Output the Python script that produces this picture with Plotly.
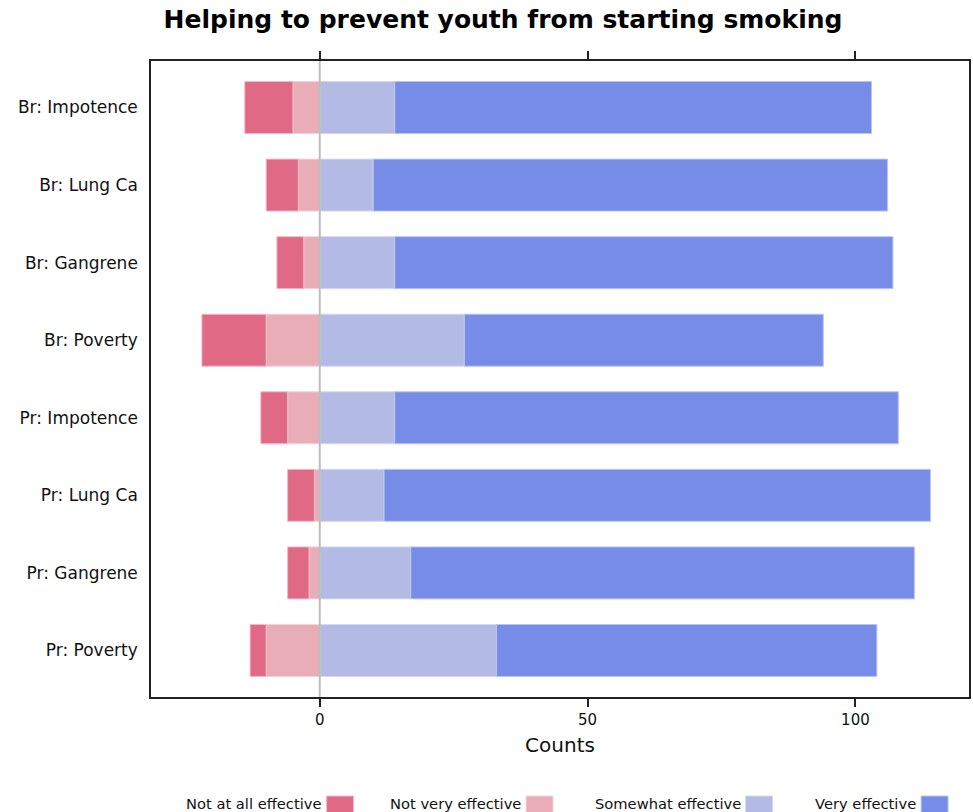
import plotly.graph_objects as go

# Survey items (top to bottom) and response counts per category
items = ["Br: Impotence", "Br: Lung Ca", "Br: Gangrene", "Br: Poverty",
         "Pr: Impotence", "Pr: Lung Ca", "Pr: Gangrene", "Pr: Poverty"]
not_at_all = [9, 6, 5, 12, 5, 5, 4, 3]
not_very = [5, 4, 3, 10, 6, 1, 2, 10]
somewhat = [14, 10, 14, 27, 14, 12, 17, 33]
very = [89, 96, 93, 67, 94, 102, 94, 71]

categories = ["Not at all effective", "Not very effective",
              "Somewhat effective", "Very effective"]
colors = ["#E06A86", "#E8ADB7", "#B3BBE5", "#778CE6"]
edges = ["#F2B9C6", "#F3D3D8", "#D3D8F2", "#B9C4F2"]

W, H = 973, 812
L, R, T, B = 151, 2, 61, 115
PW, PH = W - L - R, H - T - B
FONT = "DejaVu Sans, Verdana, sans-serif"


def px_x(x):
    return (x - L) / PW


def px_y(y):
    return (H - B - y) / PH


fig = go.Figure()

# Disagreeing responses stack leftwards from zero, agreeing ones to the right
series = [
    (categories[1], [-v for v in not_very], colors[1], edges[1], not_very),
    (categories[0], [-v for v in not_at_all], colors[0], edges[0], not_at_all),
    (categories[2], somewhat, colors[2], edges[2], somewhat),
    (categories[3], very, colors[3], edges[3], very),
]
for name, vals, col, edge, raw in series:
    fig.add_trace(go.Bar(
        y=items, x=vals, name=name, orientation="h",
        marker=dict(color=col, line=dict(color=edge, width=1)),
        customdata=raw, width=0.67,
        hovertemplate="%{y}<br>" + name + ": %{customdata}<extra></extra>",
        showlegend=False,
    ))

fig.update_layout(
    width=W, height=H,
    margin=dict(l=L, r=R, t=T, b=B),
    barmode="relative",
    plot_bgcolor="white", paper_bgcolor="white",
    font=dict(family=FONT, color="#111111"),
    title=dict(
        text="<b>Helping to prevent youth from starting smoking</b>",
        x=503 / W, xanchor="center",
        y=1 - 19 / H, yanchor="middle",
        font=dict(size=25, color="#000000", family=FONT),
    ),
    xaxis=dict(
        range=[-31.5, 121.2],
        tickvals=[0, 50, 100], ticktext=["0", "50", "100"],
        ticks="outside", ticklen=8, tickwidth=1.5, tickcolor="#222222",
        showline=True, linecolor="#222222", linewidth=1.5, mirror="ticks",
        showgrid=False, zeroline=False,
        tickfont=dict(size=15),
        title=dict(text="Counts", font=dict(size=20), standoff=10),
    ),
    yaxis=dict(
        range=[7.6, -0.6], type="category",
        categoryorder="array", categoryarray=items,
        showline=True, linecolor="#222222", linewidth=1.5, mirror=True,
        showgrid=False, zeroline=False, ticks="",
        ticklabelstandoff=8,
        tickfont=dict(size=17),
    ),
)

# Reference line at zero, drawn over the bars
fig.add_shape(type="line", xref="x", yref="paper", x0=0, x1=0, y0=0, y1=1,
              line=dict(color="#BDBDBD", width=2), layer="above")

# Legend row: label followed by its colour swatch
swatch_left = [327, 527, 747, 923]
for sx, name, col, edge in zip(swatch_left, categories, colors, edges):
    fig.add_annotation(
        x=px_x(sx - 3), y=px_y(803), xref="paper", yref="paper",
        text=name, showarrow=False, xanchor="right", yanchor="middle",
        font=dict(size=14.7, color="#111111"),
    )
    fig.add_shape(
        type="rect", xref="paper", yref="paper",
        x0=px_x(sx), x1=px_x(sx + 27), y0=px_y(814), y1=px_y(796),
        fillcolor=col, line=dict(color=edge, width=1),
    )

fig.write_html("out.html")
